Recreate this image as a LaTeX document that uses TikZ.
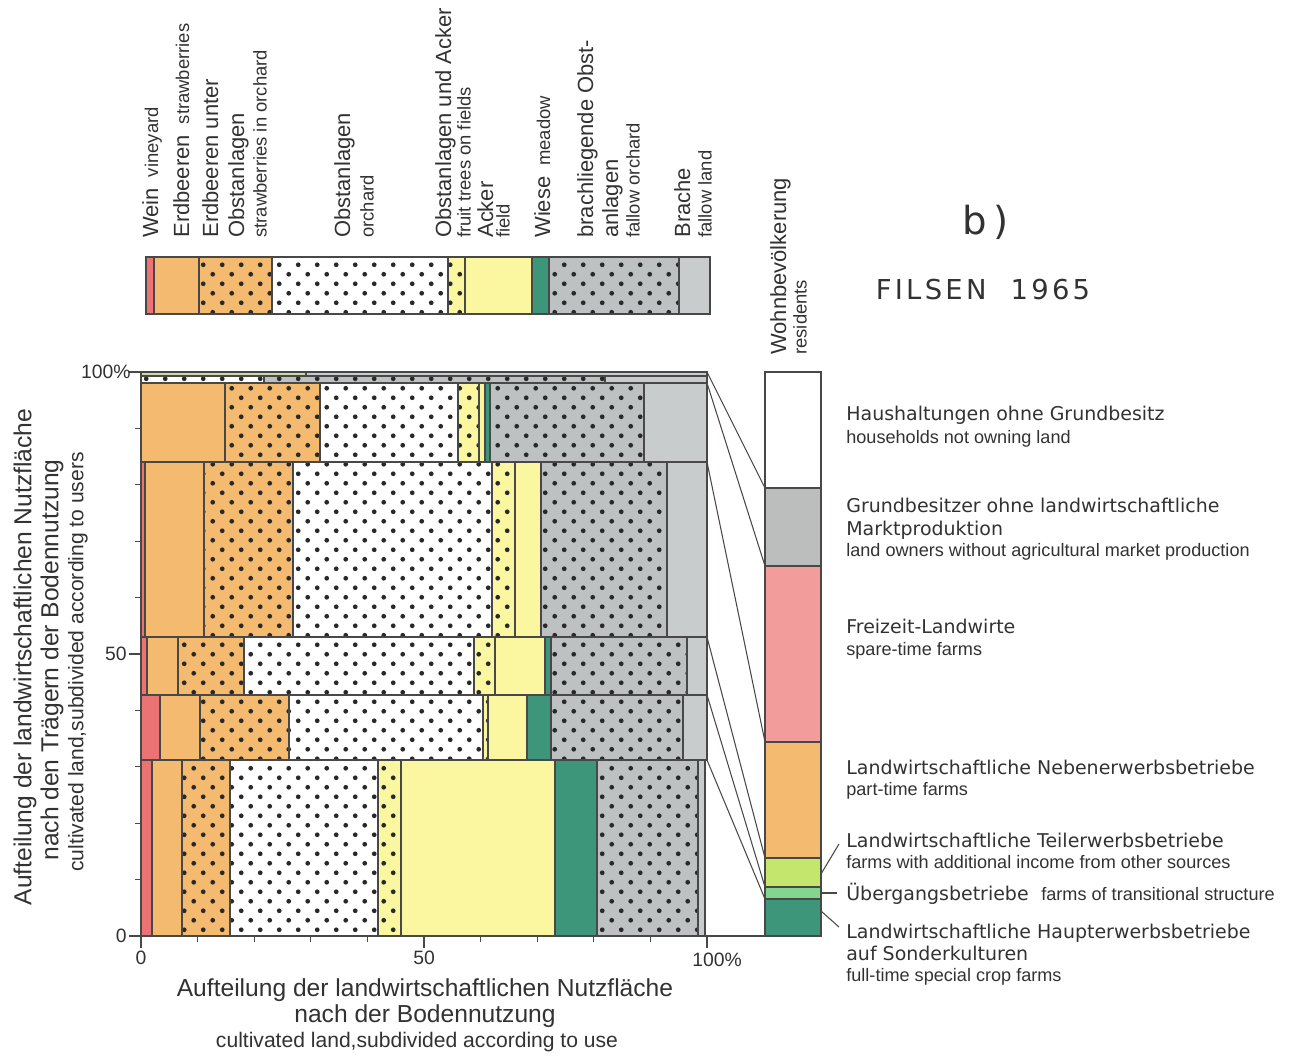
\documentclass[tikz,border=0pt]{standalone}
\usepackage{fontspec}
\setmainfont{Liberation Sans}
\newfontfamily\widefont{DejaVu Sans}
\newfontfamily\spacedfont[LetterSpace=12]{DejaVu Sans}
\usetikzlibrary{patterns}

\definecolor{vinered}{RGB}{235,115,115}
\definecolor{berorange}{RGB}{243,186,112}
\definecolor{fieldyel}{RGB}{250,247,160}
\definecolor{meadgreen}{RGB}{62,150,122}
\definecolor{fallgray}{RGB}{190,193,193}
\definecolor{baregray}{RGB}{201,204,204}
\definecolor{stripgreen}{RGB}{206,216,166}
\definecolor{resgray}{RGB}{188,189,189}
\definecolor{respink}{RGB}{242,156,156}
\definecolor{reslime}{RGB}{196,230,108}
\definecolor{resmint}{RGB}{132,214,142}
\definecolor{linegray}{RGB}{72,72,72}
\definecolor{dotcol}{RGB}{40,40,40}
\definecolor{textcol}{RGB}{50,50,50}

\pgfdeclarepatternformonly{fdots}{\pgfqpoint{0pt}{0pt}}{\pgfqpoint{10.8pt}{10.8pt}}{\pgfqpoint{10.8pt}{10.8pt}}{%
  \pgfpathcircle{\pgfqpoint{2.7pt}{2.7pt}}{1.35pt}%
  \pgfpathcircle{\pgfqpoint{8.1pt}{8.1pt}}{1.35pt}%
  \pgfusepath{fill}}

\newcommand\engl[1]{{\fontsize{10.5}{12}\selectfont #1}}

\tikzset{
  seg/.style={draw=linegray, line width=0.6pt},
  dotfill/.style={preaction={fill=#1}, pattern=fdots, pattern color=dotcol},
  vw/.style={seg, fill=vinered},
  sb/.style={seg, fill=berorange},
  so/.style={seg, dotfill=berorange},
  ob/.style={seg, dotfill=white},
  fa/.style={seg, dotfill=fieldyel},
  ac/.style={seg, fill=fieldyel},
  mw/.style={seg, fill=meadgreen},
  bo/.style={seg, dotfill=fallgray},
  br/.style={seg, fill=baregray},
  sg/.style={seg, fill=stripgreen},
  use/.style={rotate=90, anchor=base west, inner sep=0pt, text=textcol, font=\fontsize{12.5}{15}\selectfont},
  useen/.style={use, font=\fontsize{10.5}{12}\selectfont},
  axl/.style={inner sep=0pt, text=textcol, font=\fontsize{14}{16}\selectfont},
  axen/.style={inner sep=0pt, text=textcol, font=\fontsize{12}{14}\selectfont},
  num/.style={inner sep=0pt, text=textcol, font=\fontsize{11}{13}\selectfont},
  key/.style={anchor=base west, inner sep=0pt, text=textcol, font=\widefont\fontsize{10.8}{13}\selectfont},
  keyen/.style={anchor=base west, inner sep=0pt, text=textcol, font=\fontsize{10.3}{12}\selectfont}
}

\begin{document}
\begin{tikzpicture}[x=0.02cm, y=-0.02cm]
\useasboundingbox (0,0) rectangle (1289,1057);

% land use, total
\foreach \xa/\xb/\k in {146/154/vw, 154/199/sb, 199/272/so, 272/448/ob, 448/465/fa, 465/532/ac, 532/549/mw, 549/679/bo, 679/710/br}
  \draw[\k] (\xa,257) rectangle (\xb,314);

% land use by users, bottom to top
\foreach \xa/\xb/\k in {141/152/vw, 152/182/sb, 182/230/so, 230/378/ob, 378/401/fa, 401/555/ac, 555/597/mw, 597/698/bo, 698/705/br}
  \draw[\k] (\xa,760) rectangle (\xb,936);
\foreach \xa/\xb/\k in {141/160/vw, 160/200/sb, 200/289/so, 289/483/ob, 483/488/fa, 488/527/ac, 527/551/mw, 551/683/bo, 683/707/br}
  \draw[\k] (\xa,695) rectangle (\xb,760);
\foreach \xa/\xb/\k in {141/147/vw, 147/178/sb, 178/244/so, 244/474/ob, 474/495/fa, 495/545/ac, 545/551/mw, 551/687/bo, 687/707/br}
  \draw[\k] (\xa,637) rectangle (\xb,695);
\foreach \xa/\xb/\k in {141/145/vw, 145/204/sb, 204/293/so, 293/492/ob, 492/515/fa, 515/541/ac, 541/667/bo, 667/707/br}
  \draw[\k] (\xa,462) rectangle (\xb,637);
\foreach \xa/\xb/\k in {141/225/sb, 225/320/so, 320/458/ob, 458/479/fa, 479/485/ac, 485/490/mw, 490/644/bo, 644/707/br}
  \draw[\k] (\xa,383) rectangle (\xb,462);
\foreach \xa/\xb/\k in {141/264/ob, 264/605/bo, 605/707/br}
  \draw[\k] (\xa,376) rectangle (\xb,383);
\foreach \xa/\xb/\k in {141/306/sg, 306/707/br}
  \draw[\k] (\xa,372) rectangle (\xb,376);

% residents
\foreach \ya/\yb/\c in {372/488/white, 488/566/resgray, 566/742/respink, 742/858/berorange, 858/887/reslime, 887/899/resmint, 899/936/meadgreen}
  \draw[seg, fill=\c] (765,\ya) rectangle (821,\yb);

% connectors users -> residents
\coordinate (u0) at (707,372); \coordinate (w0) at (765,488);
\coordinate (u1) at (707,383); \coordinate (w1) at (765,566);
\coordinate (u2) at (707,462); \coordinate (w2) at (765,742);
\coordinate (u3) at (707,637); \coordinate (w3) at (765,858);
\coordinate (u4) at (707,695); \coordinate (w4) at (765,887);
\coordinate (u5) at (707,760); \coordinate (w5) at (765,899);
\foreach \i in {0,...,5}
  \draw[seg] (u\i) -- (w\i);

% axes
\coordinate (o) at (141,936);
\coordinate (e) at (765,936);
\draw[seg] (o) -- (e);
\foreach \p in {10,20,30,40,60,70,80,90} {
  \draw[seg] (141,{936-5.64*\p}) -- ++(-6,0);
  \draw[seg] ({141+5.66*\p},936) -- ++(0,6);
}
\foreach \p in {0,50,100} {
  \draw[seg] (141,{936-5.64*\p}) -- ++(-12,0);
  \draw[seg] ({141+5.66*\p},936) -- ++(0,12);
}
\node[num, anchor=east] (y0) at (127,936) {0};
\node[num, anchor=east] (y50) at (127,654) {50};
\node[num, anchor=east] (y100) at (131,372) {100\%};
\node[num] (x0) at (141,958) {0};
\node[num] (x50) at (424,958) {50};
\node[num] (x100) at (717,960) {100\%};

\node[axl, rotate=90] (ya1) at (25,657) {Aufteilung\ der\ landwirtschaftlichen\ Nutzfläche};
\node[axl, rotate=90] (ya2) at (52,660) {nach den Trägern der Bodennutzung};
\node[axen, rotate=90] (ya3) at (78,662) {cultivated land,subdivided according to users};
\node[axl] (xa1) at (425,990) {Aufteilung\ der\ landwirtschaftlichen\ Nutzfläche};
\node[axl] (xa2) at (425,1016) {nach der Bodennutzung};
\node[axen] (xa3) at (417,1042) {cultivated land,subdivided according to use};

% land use labels
\node[use] (lwein) at (158,238) {Wein\enskip\engl{vineyard}};
\node[use] (lerd) at (189,238) {Erdbeeren\enskip\engl{strawberries}};
\node[use] (lerdo) at (218,238) {Erdbeeren unter};
\node[use] (lerdo2) at (244,238) {Obstanlagen};
\node[useen] (lerdo3) at (266.6,238) {strawberries in orchard};
\node[use] (lobst) at (350,238) {Obstanlagen};
\node[useen] (lobst2) at (373.6,238) {orchard};
\node[use] (lobac) at (451,238) {Obstanlagen und\ Acker};
\node[useen] (lobac2) at (470.6,238) {fruit trees on fields};
\node[use] (lack) at (493,238) {Acker};
\node[useen] (lack2) at (509.6,238) {field};
\node[use] (lwie) at (550,238) {Wiese\enskip\engl{meadow}};
\node[use] (lbro) at (593,238) {brachliegende\ Obst-};
\node[use] (lbro2) at (618,238) {anlagen};
\node[useen] (lbro3) at (639.6,238) {fallow orchard};
\node[use] (lbra) at (690,238) {Brache};
\node[useen] (lbra2) at (711.6,238) {fallow land};
\node[use] (lres) at (786,355) {Wohnbevölkerung};
\node[useen] (lres2) at (806.6,355) {residents};

% title
\node[inner sep=0pt, text=textcol, font=\widefont\fontsize{22}{26}\selectfont] (tb) at (986,222) {b\,)};
\node[inner sep=0pt, text=textcol, font=\spacedfont\fontsize{15.6}{18}\selectfont] (tf) at (983,290) {FILSEN\ \ 1965};

% residents key
\node[key] (kh) at (846,421) {Haushaltungen\ ohne\ Grundbesitz};
\node[keyen] (kh2) at (846,444) {households not owning land};
\node[key] (kg) at (846,513) {Grundbesitzer ohne landwirtschaftliche};
\node[key] (kg2) at (846,536) {Marktproduktion};
\node[keyen] (kg3) at (846,557) {land owners without agricultural market production};
\node[key] (kf) at (846,634) {Freizeit-Landwirte};
\node[keyen] (kf2) at (846,656) {spare-time farms};
\node[key] (kn) at (846,774) {Landwirtschaftliche\ Nebenerwerbsbetriebe};
\node[keyen] (kn2) at (846,795) {part-time farms};
\node[key] (kt) at (846,847) {Landwirtschaftliche\ Teilerwerbsbetriebe};
\node[keyen] (kt2) at (846,868) {farms with additional income from other sources};
\node[key] (ku) at (846,900) {Übergangsbetriebe};
\node[keyen] (ku2) at (1041,900) {farms of transitional structure};
\node[key] (ka) at (846,938) {Landwirtschaftliche\ Haupterwerbsbetriebe};
\node[key] (ka2) at (846,960) {auf Sonderkulturen};
\node[keyen] (ka3) at (846,981) {full-time special crop farms};

\coordinate (pt) at (821,874);
\coordinate (pu) at (821,893);
\coordinate (pa) at (821,911);
\draw[seg] (pt) -- ([shift={(-7,-3)}]kt.base west);
\draw[seg] (pu) -- ([shift={(-9,-7)}]ku.base west);
\draw[seg] (pa) -- ([shift={(-7,-11)}]ka.base west);
\end{tikzpicture}
\end{document}
